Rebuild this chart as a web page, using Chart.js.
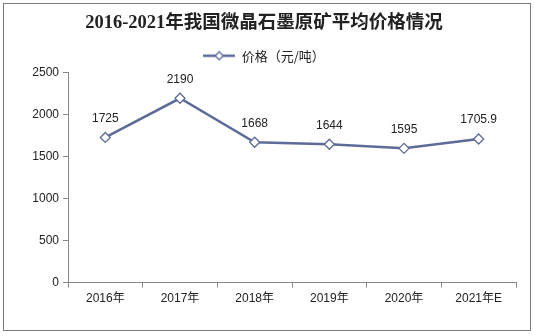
<!DOCTYPE html>
<html>
<head>
<meta charset="utf-8">
<script src="https://cdn.jsdelivr.net/npm/chart.js@4.4.0/dist/chart.umd.min.js"></script>
<style>
  html, body { margin: 0; padding: 0; background: #fff; }
  #wrap { width: 534px; height: 336px; position: relative; }
</style>
</head>
<body>
<div id="wrap"><canvas id="c" width="534" height="336"></canvas></div>
<script>
// 2016-2021 microcrystalline graphite ore average price
const years = ['2016年', '2017年', '2018年', '2019年', '2020年', '2021年E'];
const prices = [1725, 2190, 1668, 1644, 1595, 1705.9];
const priceLabels = ['1725', '2190', '1668', '1644', '1595', '1705.9'];
const yTicks = [0, 500, 1000, 1500, 2000, 2500];

const lineColor = '#5d6b98';

// legend symbol: short line with a hollow diamond in the middle
function legendSymbol() {
  const cv = document.createElement('canvas');
  cv.width = 32; cv.height = 12;
  const g = cv.getContext('2d');
  g.strokeStyle = lineColor;
  g.lineWidth = 2.5;
  g.beginPath(); g.moveTo(0, 6); g.lineTo(32, 6); g.stroke();
  g.fillStyle = '#fff';
  g.lineWidth = 1.3;
  g.beginPath();
  g.moveTo(16, 2); g.lineTo(20, 6); g.lineTo(16, 10); g.lineTo(12, 6); g.closePath();
  g.fill(); g.stroke();
  return cv;
}

const frame = {
  id: 'frame',
  beforeDraw(chart) {
    const ctx = chart.ctx;
    ctx.save();
    ctx.fillStyle = '#fff';
    ctx.fillRect(0, 0, chart.width, chart.height);
    ctx.strokeStyle = '#7a7a7a';
    ctx.lineWidth = 1;
    ctx.strokeRect(3.5, 3.5, 527, 327);
    ctx.restore();
  }
};

const valueLabels = {
  id: 'valueLabels',
  afterDatasetsDraw(chart) {
    const ctx = chart.ctx;
    const meta = chart.getDatasetMeta(0);
    ctx.save();
    ctx.font = '12px "Liberation Sans", Arial, sans-serif';
    ctx.fillStyle = '#222';
    ctx.textAlign = 'center';
    ctx.textBaseline = 'middle';
    meta.data.forEach((pt, i) => {
      ctx.fillText(priceLabels[i], pt.x, pt.y - 19);
    });
    ctx.restore();
  }
};

new Chart(document.getElementById('c'), {
  type: 'line',
  data: {
    labels: years,
    datasets: [{
      label: '价格（元/吨）',
      data: prices,
      borderColor: lineColor,
      borderWidth: 2.5,
      backgroundColor: '#fff',
      pointStyle: 'rectRot',
      pointRadius: 5,
      pointBorderWidth: 1.3,
      pointBorderColor: lineColor,
      pointBackgroundColor: '#fff',
      tension: 0
    }]
  },
  options: {
    responsive: false,
    animation: false,
    devicePixelRatio: 1,
    layout: { padding: { left: 12, right: 18, top: 0, bottom: 26 } },
    plugins: {
      tooltip: { enabled: false },
      title: {
        display: true,
        text: '2016-2021年我国微晶石墨原矿平均价格情况',
        color: '#222',
        font: { family: '"Liberation Serif", "Noto Sans CJK SC", serif', size: 18.5, weight: 'bold' },
        padding: { top: 12, bottom: 10 }
      },
      legend: {
        display: true,
        labels: {
          usePointStyle: true,
          pointStyle: legendSymbol(),
          pointStyleWidth: 32,
          color: '#222',
          font: { family: '"Noto Sans CJK SC", sans-serif', size: 13 },
          padding: 5
        }
      }
    },
    scales: {
      x: {
        offset: true,
        grid: {
          display: true,
          drawOnChartArea: false,
          offset: true,
          tickLength: 5,
          color: '#888'
        },
        border: { color: '#888', width: 1 },
        ticks: {
          color: '#222',
          padding: 4,
          maxRotation: 0,
          font: { family: '"Liberation Sans", "Noto Sans CJK SC", sans-serif', size: 12 }
        }
      },
      y: {
        min: 0,
        max: 2500,
        afterBuildTicks(scale) { scale.ticks = yTicks.map(v => ({ value: v })); },
        afterFit(scale) { scale.width = 56; },
        grid: {
          display: true,
          drawOnChartArea: false,
          tickLength: 5,
          color: '#888'
        },
        border: { color: '#888', width: 1 },
        ticks: {
          color: '#222',
          padding: 4,
          callback: (v) => String(v),
          font: { family: '"Liberation Sans", Arial, sans-serif', size: 12 }
        }
      }
    }
  },
  plugins: [frame, valueLabels]
});
</script>
</body>
</html>
